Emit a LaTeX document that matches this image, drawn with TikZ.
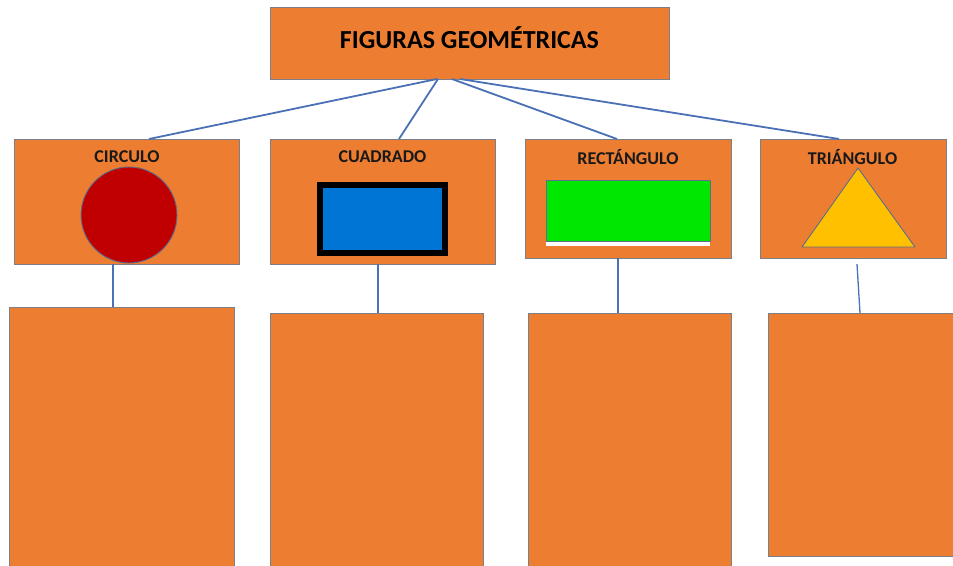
\documentclass[tikz,border=0pt]{standalone}
\usepackage{fontspec}
\setmainfont{Carlito}
\definecolor{orangebox}{HTML}{ED7D31}
\definecolor{boxborder}{HTML}{7A7F88}
\definecolor{connblue}{HTML}{4A70B5}
\definecolor{circred}{HTML}{C00000}
\definecolor{sqblue}{HTML}{0075D6}
\definecolor{rectgreen}{HTML}{00E800}
\definecolor{triyellow}{HTML}{FFC000}
\definecolor{shapeedge}{HTML}{5D6E8C}
\tikzset{
  box/.style={draw=boxborder, fill=orangebox, line width=0.9pt, inner sep=0pt, outer sep=0pt, rectangle},
  lbl/.style={font=\bfseries\fontsize{18}{20}\selectfont, text=black!90, inner sep=0pt},
  conn/.style={draw=connblue, line width=1.8pt},
  connthin/.style={draw=connblue, line width=1.3pt}
}
\begin{document}
\begin{tikzpicture}[x=1pt,y=-1pt]
\useasboundingbox (0,0) rectangle (953,565);
% title
\node[box, minimum width=399pt, minimum height=72pt] (top) at (469.5,43) {};
\node[font=\bfseries\fontsize{26}{28}\selectfont, inner sep=0pt] (title) at (469.5,38) {FIGURAS GEOMÉTRICAS};
% second row
\node[box, minimum width=225pt, minimum height=125pt] (c1) at (126.5,201.5) {};
\node[box, minimum width=225pt, minimum height=125pt] (c2) at (382.5,201.5) {};
\node[box, minimum width=206pt, minimum height=119pt] (c3) at (628,198.5) {};
\node[box, minimum width=186pt, minimum height=119pt] (c4) at (853,198.5) {};
\node[lbl] (l1) at (127,157) {CIRCULO};
\node[lbl] (l2) at (382.5,157) {CUADRADO};
\node[lbl] (l3) at (628,157) {RECTÁNGULO};
\node[lbl] (l4) at (852.5,157) {TRIÁNGULO};
% shapes
\node[circle, draw=shapeedge, line width=0.9pt, fill=circred, minimum size=96pt, inner sep=0pt] (circ) at (129,215) {};
\node[rectangle, draw=black, line width=6pt, fill=sqblue, minimum width=125pt, minimum height=68pt, inner sep=0pt] (sq) at (382.5,219) {};
\node[rectangle, fill=white, draw=none, minimum width=164pt, minimum height=5pt, inner sep=0pt] (gstrip) at (628,243.5) {};
\node[rectangle, draw=shapeedge, line width=0.8pt, fill=rectgreen, minimum width=164pt, minimum height=61pt, inner sep=0pt] (grect) at (628,210.5) {};
\draw[draw=shapeedge, line width=0.9pt, fill=triyellow, line join=round] (858,168) -- (915,247) -- (802,247) -- cycle;
% bottom row
\node[box, minimum width=225pt, minimum height=262pt] (b1) at (121.5,438) {};
\node[box, minimum width=213pt, minimum height=256pt] (b2) at (376.5,441) {};
\node[box, minimum width=203pt, minimum height=256pt] (b3) at (629.5,441) {};
\node[box, minimum width=192pt, minimum height=243pt] (b4) at (864,434.5) {};
% connectors from title
\draw[conn] ([xshift=167pt]top.south west) -- ([xshift=135pt]c1.north west);
\draw[conn] ([xshift=168pt]top.south west) -- ([xshift=129pt]c2.north west);
\draw[conn] ([xshift=182pt]top.south west) -- ([xshift=92pt]c3.north west);
\draw[conn] ([xshift=190pt]top.south west) -- ([xshift=79pt]c4.north west);
% connectors to bottom boxes
\draw[connthin] ([xshift=99pt]c1.south west) -- ([xshift=104pt]b1.north west);
\draw[connthin] ([xshift=108pt]c2.south west) -- ([xshift=108pt]b2.north west);
\draw[connthin] ([xshift=93pt]c3.south west) -- ([xshift=90pt]b3.north west);
\coordinate (t4) at (857,264);
\draw[connthin] (t4) -- ([xshift=92pt]b4.north west);
\end{tikzpicture}
\end{document}
